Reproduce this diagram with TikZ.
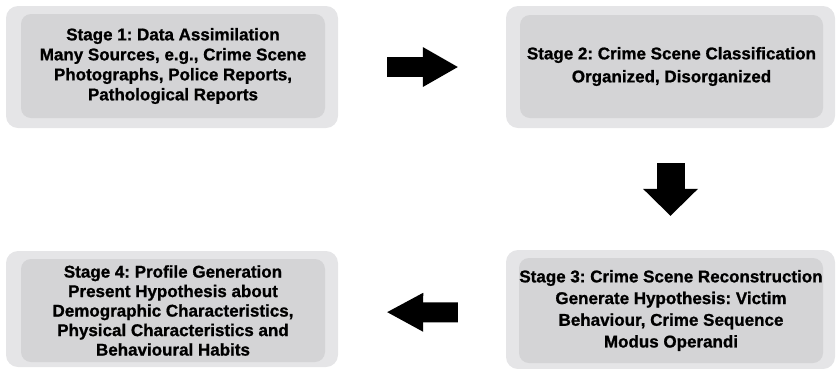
\documentclass[tikz,border=0pt]{standalone}
\usepackage{fontspec}
\setmainfont{Liberation Sans}[BoldFeatures={FakeBold=1}]
\usetikzlibrary{arrows.meta}
\definecolor{outergray}{RGB}{229,229,231}
\definecolor{innergray}{RGB}{212,212,214}
\frenchspacing
\begin{document}
\begin{tikzpicture}[x=1pt,y=-1pt,
  outerbox/.style={fill=outergray,rounded corners=12pt,inner sep=0pt},
  innerbox/.style={fill=innergray,rounded corners=10pt,inner sep=0pt,align=center},
  stagetext/.style={font=\bfseries\fontsize{17}{#1}\selectfont},
  blockarrow/.style n args={3}{line width=#1,-{Triangle[length=#2,width=#3,line width=0pt]}}]
\useasboundingbox (0,0) rectangle (836,368);
\node[outerbox,minimum width=332pt,minimum height=122pt] (s1o) at (172,67) {};
\node[innerbox,minimum width=304pt,minimum height=104pt,stagetext=20pt] (s1) at (173,66) {Stage 1: Data Assimilation\\Many Sources, e.g., Crime Scene\\Photographs, Police Reports,\\Pathological Reports};
\node[outerbox,minimum width=329pt,minimum height=122pt] (s2o) at (670.5,67) {};
\node[innerbox,minimum width=303pt,minimum height=103pt,stagetext=23pt] (s2) at (671.5,66.5) {Stage 2: Crime Scene Classification\\Organized, Disorganized};
\node[outerbox,minimum width=329pt,minimum height=119pt] (s3o) at (670.5,309.5) {};
\node[innerbox,minimum width=304pt,minimum height=105pt,stagetext=21.7pt] (s3) at (671,310.5) {Stage 3: Crime Scene Reconstruction\\Generate Hypothesis: Victim\\Behaviour, Crime Sequence\\Modus Operandi};
\node[outerbox,minimum width=332pt,minimum height=116pt] (s4o) at (172,309) {};
\node[innerbox,minimum width=304pt,minimum height=103pt,stagetext=19.5pt] (s4) at (173,310.5) {Stage 4: Profile Generation\\Present Hypothesis about\\Demographic Characteristics,\\Physical Characteristics and\\Behavioural Habits};
\draw[blockarrow={20pt}{35pt}{40pt},shorten <=49pt,shorten >=48pt] (s1o) -- (s2o);
\draw[blockarrow={28pt}{27pt}{55pt},shorten <=35pt,shorten >=34pt] (s2o) -- (s3o);
\draw[blockarrow={20pt}{36pt}{39pt},shorten <=48pt,shorten >=49pt] ([yshift=-3pt]s3o.west) -- ([yshift=-3pt]s4o.east);
\end{tikzpicture}
\end{document}
